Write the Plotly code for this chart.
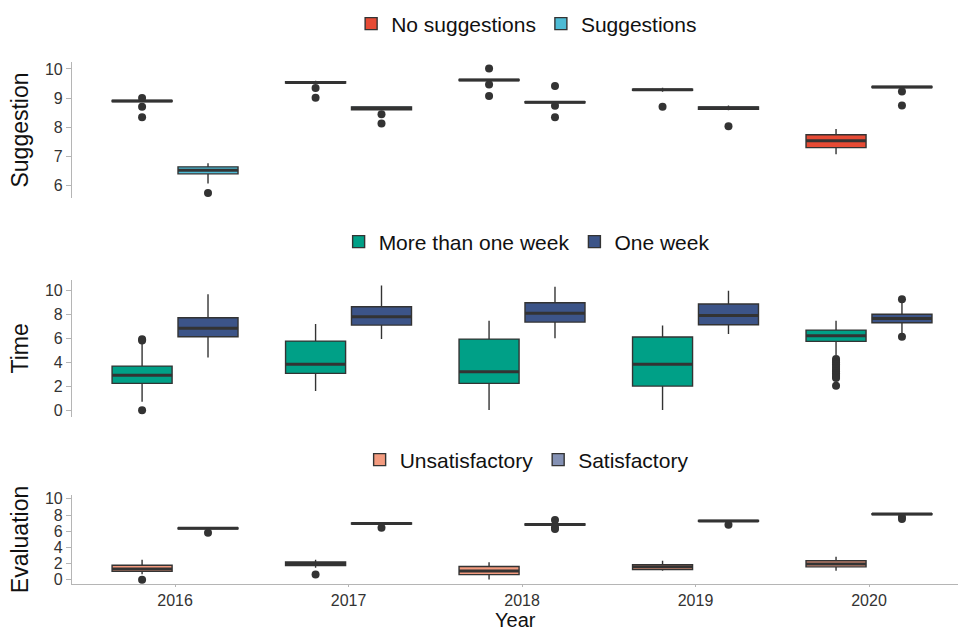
import plotly.graph_objects as go

years = ["2016", "2017", "2018", "2019", "2020"]

# Panel 1: Suggestion
sug_names = ["No suggestions", "Suggestions"]
nosug_q1 = [8.88, 9.52, 9.60, 9.27, 7.30]
nosug_med = [8.90, 9.54, 9.62, 9.29, 7.54]
nosug_q3 = [8.92, 9.56, 9.64, 9.31, 7.74]
nosug_lo = [8.88, 9.52, 9.60, 9.22, 7.07]
nosug_hi = [8.92, 9.60, 9.64, 9.36, 7.94]
nosug_out = [[9.0, 8.70, 8.34], [9.35, 9.01], [10.02, 9.47, 9.07], [8.70], []]

sug_q1 = [6.40, 8.60, 8.84, 8.62, 9.36]
sug_med = [6.52, 8.65, 8.86, 8.66, 9.38]
sug_q3 = [6.64, 8.70, 8.88, 8.70, 9.40]
sug_lo = [6.07, 8.60, 8.84, 8.58, 9.36]
sug_hi = [6.76, 8.72, 8.88, 8.75, 9.42]
sug_out = [[5.74], [8.45, 8.13], [9.42, 8.74, 8.34], [8.03], [9.23, 8.75]]

# Panel 2: Time
time_names = ["More than one week", "One week"]
mt_q1 = [2.26, 3.09, 2.26, 2.03, 5.77]
mt_med = [2.93, 3.85, 3.23, 3.85, 6.24]
mt_q3 = [3.70, 5.79, 5.96, 6.13, 6.71]
mt_lo = [0.72, 1.61, 0.02, 0.02, 4.62]
mt_hi = [5.70, 7.22, 7.49, 7.10, 7.49]
mt_out = [[5.85, 5.95, 0.0], [], [], [],
          [4.30, 4.15, 4.0, 3.85, 3.70, 3.55, 3.40, 3.25, 3.10, 2.95, 2.80, 2.70, 2.05]]

ow_q1 = [6.15, 7.13, 7.38, 7.16, 7.32]
ow_med = [6.86, 7.83, 8.11, 7.94, 7.69]
ow_q3 = [7.74, 8.66, 9.00, 8.89, 8.03]
ow_lo = [4.43, 5.96, 6.02, 6.38, 6.30]
ow_hi = [9.70, 10.45, 10.34, 10.0, 9.10]
ow_out = [[], [], [], [], [9.28, 6.15]]

# Panel 3: Evaluation
eval_names = ["Unsatisfactory", "Satisfactory"]
un_q1 = [1.04, 1.76, 0.64, 1.28, 1.60]
un_med = [1.32, 2.00, 1.08, 1.60, 1.96]
un_q3 = [1.80, 2.20, 1.64, 1.88, 2.36]
un_lo = [0.68, 1.48, 0.04, 1.12, 1.12]
un_hi = [2.48, 2.48, 2.16, 2.36, 2.84]
un_out = [[0.0], [0.64], [], [], []]

sa_q1 = [6.30, 6.90, 6.78, 7.22, 8.06]
sa_med = [6.36, 6.96, 6.84, 7.28, 8.12]
sa_q3 = [6.42, 7.02, 6.90, 7.34, 8.18]
sa_lo = [6.30, 6.90, 6.78, 7.22, 8.06]
sa_hi = [6.42, 7.10, 6.90, 7.34, 8.18]
sa_out = [[5.80], [6.44], [7.40, 6.46, 6.28], [6.80], [7.76, 7.50]]

colors = {
    "No suggestions": "#E64B35", "Suggestions": "#4DBBD5",
    "More than one week": "#00A087", "One week": "#3C5488",
    "Unsatisfactory": "#F39B7F", "Satisfactory": "#8491B4",
}

H = 633
W = 961
BOXW = 0.346
OFF = 0.19
LINE = "#333333"
FONT = "Liberation Sans, Arial, sans-serif"

fig = go.Figure()

panels = [
    ("", "", "legend", sug_names,
     [(nosug_q1, nosug_med, nosug_q3, nosug_lo, nosug_hi, nosug_out),
      (sug_q1, sug_med, sug_q3, sug_lo, sug_hi, sug_out)]),
    ("2", "2", "legend2", time_names,
     [(mt_q1, mt_med, mt_q3, mt_lo, mt_hi, mt_out),
      (ow_q1, ow_med, ow_q3, ow_lo, ow_hi, ow_out)]),
    ("3", "3", "legend3", eval_names,
     [(un_q1, un_med, un_q3, un_lo, un_hi, un_out),
      (sa_q1, sa_med, sa_q3, sa_lo, sa_hi, sa_out)]),
]

for xs, ys, leg, names, series in panels:
    for k, (name, (q1, med, q3, lo, hi, outs)) in enumerate(zip(names, series)):
        off = -OFF if k == 0 else OFF
        pos = [i + off for i in range(len(years))]
        fig.add_trace(go.Box(
            x=pos, q1=q1, median=med, q3=q3, lowerfence=lo, upperfence=hi,
            width=BOXW, name=name, fillcolor=colors[name],
            line=dict(color=LINE, width=1.4), whiskerwidth=0,
            boxpoints=False, xaxis="x" + xs, yaxis="y" + ys, legend=leg,
            hoverinfo="skip",
        ))
        # thick median lines
        mx, my = [], []
        for p, m in zip(pos, med):
            mx += [p - BOXW / 2, p + BOXW / 2, None]
            my += [m, m, None]
        fig.add_trace(go.Scatter(
            x=mx, y=my, mode="lines", line=dict(color=LINE, width=3),
            showlegend=False, xaxis="x" + xs, yaxis="y" + ys, hoverinfo="skip",
        ))
        ox, oy = [], []
        for p, o in zip(pos, outs):
            ox += [p] * len(o)
            oy += o
        fig.add_trace(go.Scatter(
            x=ox, y=oy, mode="markers",
            marker=dict(color=LINE, size=8),
            showlegend=False, xaxis="x" + xs, yaxis="y" + ys, hoverinfo="skip",
        ))

xdom = [72 / W, 958 / W]
xrange = [-0.594, 4.513]

def ydom(top, bot):
    return [1 - bot / H, 1 - top / H]

axis_col = "#b5b5b5"
tick_font = dict(family=FONT, size=16, color="#333333")
title_font = dict(family=FONT, size=23, color="#111111")

yax_common = dict(
    showgrid=False, zeroline=False, showline=True, linecolor=axis_col, linewidth=1.2,
    ticks="outside", ticklen=5, tickcolor=axis_col, tickfont=tick_font,
    automargin=False, tickmode="array",
)

fig.update_layout(
    width=W, height=H,
    margin=dict(l=0, r=0, t=0, b=0),
    paper_bgcolor="white", plot_bgcolor="white",
    boxmode="overlay",
    font=dict(family=FONT),
    xaxis=dict(domain=xdom, range=xrange, visible=False, anchor="y"),
    xaxis2=dict(domain=xdom, range=xrange, visible=False, anchor="y2"),
    xaxis3=dict(
        domain=xdom, range=xrange, anchor="y3", showgrid=False, zeroline=False,
        showline=True, linecolor=axis_col, linewidth=1.2, ticks="outside",
        ticklen=2, tickcolor=axis_col, tickfont=dict(family=FONT, size=16, color="#333333"),
        tickmode="array", tickvals=list(range(len(years))), ticktext=years,
        automargin=False,
    ),
    yaxis=dict(domain=ydom(62, 198), range=[5.57, 10.24], anchor="x",
               tickvals=[6, 7, 8, 9, 10],
               title=dict(text="Suggestion", font=title_font, standoff=9), **yax_common),
    yaxis2=dict(domain=ydom(280, 416.7), range=[-0.53, 10.9], anchor="x2",
                tickvals=[0, 2, 4, 6, 8, 10],
                title=dict(text="Time", font=title_font, standoff=9), **yax_common),
    yaxis3=dict(domain=ydom(495, 584), range=[-0.52, 10.48], anchor="x3",
                tickvals=[0, 2, 4, 6, 8, 10],
                title=dict(text="Evaluation", font=title_font, standoff=9), **yax_common),
    annotations=[dict(text="Year", xref="paper", yref="paper",
                      x=(72 + 958) / 2 / W, y=0, xanchor="center",
                      yanchor="bottom", showarrow=False,
                      font=dict(family=FONT, size=20, color="#111111"))],
)

leg_common = dict(orientation="h", xanchor="center", yanchor="middle", x=0.548,
                  font=dict(family=FONT, size=21, color="#111111"),
                  bgcolor="rgba(0,0,0,0)", itemwidth=30, tracegroupgap=0)
fig.update_layout(
    legend=dict(y=1 - 24 / H, **leg_common),
    legend2=dict(y=1 - 242 / H, **leg_common),
    legend3=dict(y=1 - 460 / H, **leg_common),
)

fig.write_html("out.html", config={"displayModeBar": False},
               post_script="document.body.style.margin='0px';document.body.style.overflow='hidden';")
